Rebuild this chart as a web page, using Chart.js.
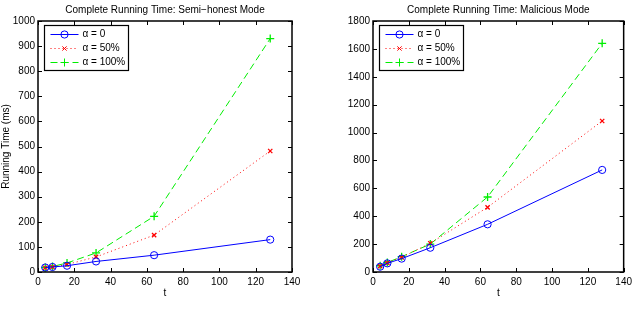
<!DOCTYPE html>
<html>
<head>
<meta charset="utf-8">
<script src="https://cdn.jsdelivr.net/npm/chart.js@4.4.0/dist/chart.umd.min.js"></script>
<style>
  body { margin: 0; background: #fff; }
  .box { position: absolute; top: 0; width: 318px; height: 316px; }
</style>
</head>
<body>
<div class="box" style="left:0"><canvas id="semiChart" width="318" height="316"></canvas></div>
<div class="box" style="left:318px"><canvas id="malChart" width="318" height="316"></canvas></div>
<script>
var tValues = [4, 8, 16, 32, 64, 128];
var seriesLabels = ['\u03b1 = 0', '\u03b1 = 50%', '\u03b1 = 100%'];

var semiA0 = [18, 20, 25, 42, 67, 129];
var semiA50 = [17, 20, 30, 60, 147, 482];
var semiA100 = [18, 22, 36, 76, 222, 930];

var malA0 = [38, 62, 96, 174, 342, 732];
var malA50 = [42, 66, 105, 206, 464, 1083];
var malA100 = [45, 68, 110, 200, 538, 1640];

var FONT = 'Liberation Sans, Arial, Helvetica, sans-serif';
var styles = [
  { color: '#0000ff', dash: [], point: 'circle', r: 3.6, pw: 1 },
  { color: '#ff0000', dash: [1, 3], point: 'crossRot', r: 3, pw: 1.3 },
  { color: '#00ee00', dash: [7, 4], point: 'cross', r: 4, pw: 1.3 }
];

function toPoints(vals) {
  return vals.map(function (v, i) { return { x: tValues[i], y: v }; });
}

// title over plot area, box, inside ticks and matlab-like legend
var boxPlugin = {
  id: 'boxPlugin',
  afterDraw: function (chart) {
    var ctx = chart.ctx, a = chart.chartArea;
    var xs = chart.scales.x, ys = chart.scales.y;
    ctx.save();
    ctx.fillStyle = '#000';
    ctx.font = '10px ' + FONT;
    ctx.textAlign = 'center';
    ctx.textBaseline = 'middle';
    ctx.fillText(chart.options.plugins.boxPlugin.title, (a.left + a.right) / 2, 10);

    ctx.strokeStyle = '#000';
    ctx.lineWidth = 1;
    ctx.setLineDash([]);
    ctx.beginPath();
    xs.ticks.forEach(function (t) {
      var px = Math.round(xs.getPixelForValue(t.value)) + 0.5;
      ctx.moveTo(px, a.bottom); ctx.lineTo(px, a.bottom - 4);
      ctx.moveTo(px, a.top); ctx.lineTo(px, a.top + 4);
    });
    ys.ticks.forEach(function (t) {
      var py = Math.round(ys.getPixelForValue(t.value)) + 0.5;
      ctx.moveTo(a.left, py); ctx.lineTo(a.left + 4, py);
      ctx.moveTo(a.right, py); ctx.lineTo(a.right - 4, py);
    });
    ctx.stroke();
    ctx.lineWidth = 1.5;
    ctx.strokeRect(a.left, a.top, a.right - a.left, a.bottom - a.top);

    // legend
    var lx = Math.round(a.left) + 6.5, ly = Math.round(a.top) + 4.5;
    ctx.fillStyle = '#fff';
    ctx.fillRect(lx, ly, 84, 45);
    ctx.strokeStyle = '#000';
    ctx.lineWidth = 1.2;
    ctx.strokeRect(lx, ly, 84, 45);
    ctx.textAlign = 'left';
    chart.data.datasets.forEach(function (ds, i) {
      var st = styles[i];
      var cy = ly + 9 + i * 14;
      var x0 = lx + 6, x1 = lx + 34;
      ctx.strokeStyle = st.color;
      ctx.lineWidth = 1;
      ctx.setLineDash(st.dash);
      ctx.beginPath();
      ctx.moveTo(x0, cy); ctx.lineTo(x1, cy);
      ctx.stroke();
      ctx.setLineDash([]);
      ctx.fillStyle = 'rgba(0,0,0,0)';
      Chart.helpers.drawPoint(ctx, { pointStyle: st.point, rotation: 0, radius: st.r, borderWidth: st.pw }, (x0 + x1) / 2, cy);
      ctx.fillStyle = '#000';
      ctx.fillText(ds.label, lx + 38, cy);
    });
    ctx.restore();
  }
};

function makeChart(id, title, a0, a50, a100, yMax, yStep, yWidth, rightPad, yTitle) {
  var all = [a0, a50, a100];
  var datasets = all.map(function (vals, i) {
    var st = styles[i];
    return {
      label: seriesLabels[i],
      data: toPoints(vals),
      borderColor: st.color,
      borderWidth: 1,
      borderDash: st.dash,
      pointStyle: st.point,
      pointRadius: st.r,
      pointBorderColor: st.color,
      pointBackgroundColor: 'rgba(0,0,0,0)',
      pointBorderWidth: st.pw,
      tension: 0,
      fill: false
    };
  });
  return new Chart(document.getElementById(id).getContext('2d'), {
    type: 'line',
    data: { datasets: datasets },
    options: {
      responsive: false,
      animation: false,
      layout: { padding: { left: 0, right: rightPad, top: 21, bottom: 16 } },
      plugins: {
        boxPlugin: { title: title },
        title: { display: false },
        legend: { display: false },
        tooltip: { enabled: false }
      },
      scales: {
        x: {
          type: 'linear', min: 0, max: 140,
          grid: { display: false, drawTicks: false },
          border: { display: false },
          ticks: { stepSize: 20, padding: 4, color: '#000', font: { family: FONT, size: 10 } },
          title: { display: true, text: 't', color: '#000', font: { family: FONT, size: 10 }, padding: { top: 0, bottom: 1 } },
          afterFit: function (s) { s.height = 28; }
        },
        y: {
          type: 'linear', min: 0, max: yMax,
          grid: { display: false, drawTicks: false },
          border: { display: false },
          ticks: {
            stepSize: yStep, padding: 3, color: '#000', font: { family: FONT, size: 10 },
            callback: function (v) { return String(v); }
          },
          title: { display: !!yTitle, text: yTitle || '', color: '#000', font: { family: FONT, size: 10 }, padding: 0 },
          afterFit: function (s) { s.width = yWidth; }
        }
      }
    },
    plugins: [boxPlugin]
  });
}

makeChart('semiChart', 'Complete Running Time: Semi\u2212honest Mode', semiA0, semiA50, semiA100, 1000, 100, 38, 26, 'Running Time (ms)');
makeChart('malChart', 'Complete Running Time: Malicious Mode', malA0, malA50, malA100, 1800, 200, 55, 9, null);
</script>
</body>
</html>
